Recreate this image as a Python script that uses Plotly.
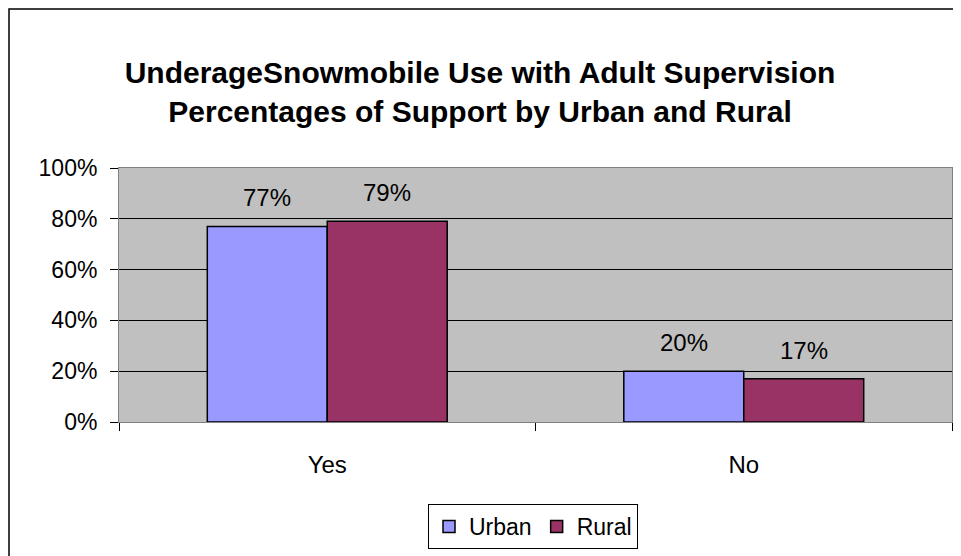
import plotly.graph_objects as go

# Data
categories = ['Yes', 'No']
urban = [0.77, 0.20]
rural = [0.79, 0.17]
series_names = ['Urban', 'Rural']
y_ticks = [0, 0.2, 0.4, 0.6, 0.8, 1.0]

FONT = 'Arial, Liberation Sans, sans-serif'

# plot area size in px
L, R, T, B = 111, 17, 160, 142
PW, PH = 961 - L - R, 556 - T - B

fig = go.Figure()
fig.add_trace(go.Bar(x = categories, y = urban, name = series_names[0],
                     marker = dict(color = '#9999FF', line = dict(color = 'black', width = 1.5))))
fig.add_trace(go.Bar(x = categories, y = rural, name = series_names[1],
                     marker = dict(color = '#993366', line = dict(color = 'black', width = 1.5))))

# value labels above each bar
for vals, shift in [(urban, -60), (rural, 60)]:
    for cat, v in zip(categories, vals):
        fig.add_annotation(x = cat, y = v, text = f'{v:.0%}', showarrow = False,
                           xshift = shift, yshift = 13, yanchor = 'bottom',
                           font = dict(size = 24, color = 'black', family = FONT))

# outer chart border
fig.add_shape(type = 'rect', xref = 'paper', yref = 'paper',
              x0 = (1 - L) / PW, x1 = (975 - L) / PW,
              y0 = (556 - B - 575) / PH, y1 = (556 - B - 1) / PH,
              line = dict(color = 'black', width = 1.5), layer = 'below')

fig.update_layout(
    width = 961, height = 556,
    margin = dict(l = L, r = R, t = T, b = B),
    title = dict(text = '<b>UnderageSnowmobile Use with Adult Supervision<br>Percentages of Support by Urban and Rural</b>',
                 x = (480 - 8) / 961, xanchor = 'center', y = 1 - 75 / 556, yanchor = 'middle',
                 font = dict(size = 30, color = 'black', family = FONT)),
    font = dict(family = FONT, size = 24, color = 'black'),
    paper_bgcolor = 'white',
    plot_bgcolor = '#C0C0C0',
    barmode = 'group',
    bargap = 0.424,
    bargroupgap = 0,
    showlegend = True,
    legend = dict(orientation = 'h', x = 0.497, xanchor = 'center', y = (556 - B - 496) / PH, yanchor = 'top',
                  bordercolor = 'black', borderwidth = 1, bgcolor = 'white',
                  font = dict(size = 23, family = FONT), itemwidth = 30),
)

fig.update_xaxes(showline = True, linecolor = '#808080', mirror = True,
                 ticks = 'outside', tickson = 'boundaries', ticklen = 8, tickcolor = 'black',
                 ticklabelstandoff = 21, tickfont = dict(size = 24))
fig.update_yaxes(range = [0, 1], tickvals = y_ticks, tickformat = '.0%',
                 showgrid = True, gridcolor = 'black', gridwidth = 1, zeroline = False,
                 showline = True, linecolor = '#808080', mirror = True,
                 ticks = 'outside', ticklen = 8, tickcolor = 'black',
                 ticklabelstandoff = 8, tickfont = dict(size = 23))

fig.write_html('out.html')
